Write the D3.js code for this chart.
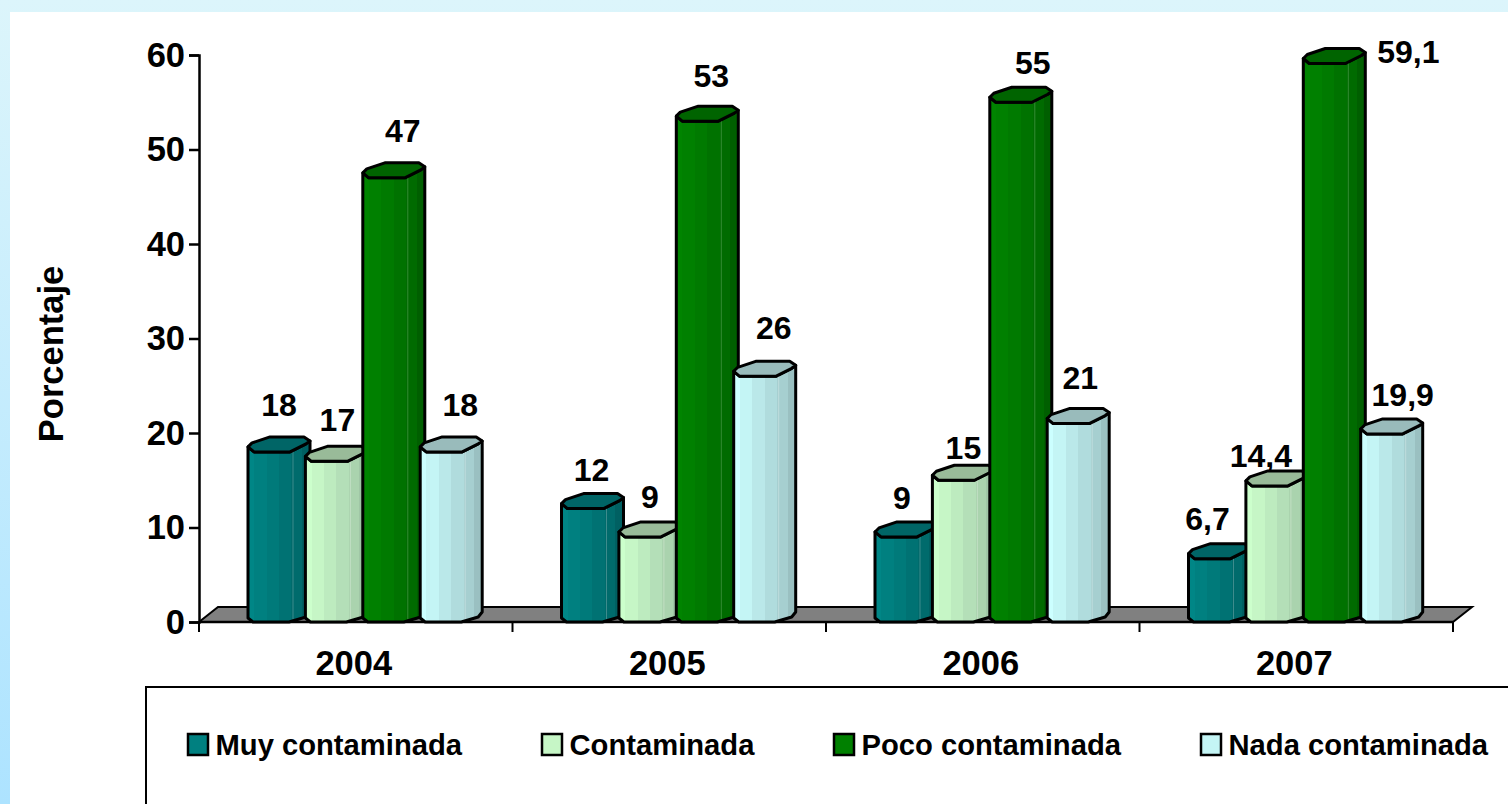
<!DOCTYPE html>
<html><head><meta charset="utf-8">
<script src="https://cdn.jsdelivr.net/npm/d3@7/dist/d3.min.js"></script>
<style>
html,body{margin:0;padding:0;overflow:hidden;background:#fff}
text{font-family:"Liberation Sans",Arial,sans-serif;font-weight:700;fill:#000}
</style></head><body>
<svg id="c" width="1508" height="804"></svg>
<script>
const years=["2004","2005","2006","2007"];
const seriesNames=["Muy contaminada","Contaminada","Poco contaminada","Nada contaminada"];
const muy=[18,12,9,6.7];
const contaminada=[17,9,15,14.4];
const poco=[47,53,55,59.1];
const nada=[18,26,21,19.9];
const yTicks=[0,10,20,30,40,50,60];
const seriesValues=[muy,contaminada,poco,nada];

// layout-only: label nudges from the default spot above each bar [series][year]
const labelNudge=[
 [[0,0],[-1,8],[-4,8],[-12,7]],
 [[1,5],[0,7],[0,14],[-16,17]],
 [[9,0],[4,1],[12,7],[74,35]],
 [[9,0],[9,-2],[2,1],[11,8]]
];
const palette=[
 {face:["#008686","#008080","#007a7a","#007273","#006b6c","#006062"],top:"#006566",line:"#6fa8a8"},
 {face:["#ccffcc","#c6f6c6","#bdebbf","#b4dfb8","#aad3ae","#a0c6a6"],top:"#99bb99",line:"#d5e8d5"},
 {face:["#008400","#008000","#007a00","#007200","#006b00","#005f00"],top:"#006400",line:"#5fa85f"},
 {face:["#ccffff","#c4f5f5","#bae8e9","#b0dcdd","#a6cfd0","#9ac0c1"],top:"#99bbbb",line:"#d5e8e8"}
];
const W=1508,H=804;
const svg=d3.select("#c");
const defs=svg.append("defs");
const bg=defs.append("linearGradient").attr("id","bg").attr("x1",0).attr("y1",0).attr("x2",0).attr("y2",1);
bg.append("stop").attr("offset",0).attr("stop-color","#dcf5fb");
bg.append("stop").attr("offset",1).attr("stop-color","#ade3ff");
svg.append("rect").attr("width",W).attr("height",H).attr("fill","url(#bg)");
svg.append("rect").attr("x",10).attr("y",12).attr("width",W-10).attr("height",H-12).attr("fill","#fff");

palette.forEach((p,i)=>{
  const g=defs.append("linearGradient").attr("id","f"+i).attr("x1",0).attr("x2",1).attr("y1",0).attr("y2",0);
  const stops=[0,.1,.3,.5,.7,.87,1];
  p.face.forEach((c,k)=>{
    g.append("stop").attr("offset",stops[k]).attr("stop-color",c);
    g.append("stop").attr("offset",stops[k+1]).attr("stop-color",c);
  });
});

const y=d3.scaleLinear().domain([0,60]).range([622,55]);
const x=d3.scaleBand().domain(years).range([199,1453]);
const sx=d3.scaleBand().domain(d3.range(4)).range([49,49+57.4*4]).padding(0);

// floor
const floorDepth=[19,15];
svg.append("path")
  .attr("d",d3.line()([[x.range()[0],y(0)],[x.range()[0]+floorDepth[0],y(0)-floorDepth[1]],[x.range()[1]+floorDepth[0],y(0)-floorDepth[1]],[x.range()[1],y(0)]])+"Z")
  .attr("fill","#808080").attr("stroke","#000").attr("stroke-width",2);

const FS=34.5;
// axes
const gy=svg.append("g").attr("transform","translate(199,0)").call(d3.axisLeft(y).tickValues(yTicks).tickSize(10).tickPadding(4));
gy.selectAll("path").attr("stroke","#000").attr("stroke-width",2.5);
gy.selectAll("line").attr("stroke","#000").attr("stroke-width",2.5);
gy.selectAll("text").style("font-size",FS+"px").style("font-family","Liberation Sans").style("font-weight","700");
const gx=svg.append("g").attr("transform","translate(0,622)").call(d3.axisBottom(x).tickSize(0).tickPadding(29));
gx.select("path").remove();
gx.selectAll("text").attr("dx",-2).style("font-size",FS+"px").style("font-family","Liberation Sans").style("font-weight","700");
svg.selectAll(".xt").data([...years.map(d=>x(d)),x.range()[1]]).join("line").attr("class","xt")
  .attr("x1",d=>d).attr("x2",d=>d).attr("y1",622).attr("y2",632).attr("stroke","#000").attr("stroke-width",2);
svg.append("line").attr("x1",199).attr("x2",1453).attr("y1",622).attr("y2",622).attr("stroke","#000").attr("stroke-width",2.5);

// bars
const BW=62;
const line=d3.line();
function body(top,bot){return line([[0,top-5],[0,bot-4],[5,bot],[41,bot],[58,bot-5],[BW,bot-10],[BW,top-11],[58,top-8],[42,top],[6,top]])+"Z";}
function cap(top){return line([[0,top-5],[4,top-9],[22,top-15],[56,top-15],[BW,top-11],[58,top-8],[42,top],[6,top]])+"Z";}
years.forEach((yr,yi)=>{
  const g=svg.append("g").attr("transform",`translate(${x(yr)},0)`);
  seriesValues.forEach((vals,si)=>{
    const v=vals[yi],top=y(v),bot=y(0);
    const b=g.append("g").attr("transform",`translate(${sx(si)},0)`);
    b.append("path").attr("d",body(top,bot)).attr("fill",`url(#f${si})`).attr("stroke","#000").attr("stroke-width",3).attr("stroke-linejoin","round");
    b.append("line").attr("x1",45).attr("x2",45).attr("y1",top-2).attr("y2",bot-3).attr("stroke",palette[si].line).attr("stroke-width",1).attr("opacity",.55);
    b.append("path").attr("d",cap(top)).attr("fill",palette[si].top).attr("stroke","#000").attr("stroke-width",3).attr("stroke-linejoin","round");
  });
});
// labels
years.forEach((yr,yi)=>{
  seriesValues.forEach((vals,si)=>{
    const v=vals[yi],n=labelNudge[si][yi];
    svg.append("text").attr("x",x(yr)+sx(si)+BW/2+n[0]).attr("y",y(v)-47+n[1]).attr("dy","0.36em").attr("text-anchor","middle")
      .style("font-size","32px").text(String(v).replace(".",","));
  });
});
// axis title
svg.append("text").attr("transform","translate(51,354) rotate(-90)").attr("dy","0.36em").attr("text-anchor","middle").style("font-size",FS+"px").text("Porcentaje");
// legend
svg.append("rect").attr("x",146).attr("y",687).attr("width",1400).attr("height",200).attr("fill","none").attr("stroke","#000").attr("stroke-width",2);
const legendX=[187,541,833,1200];
seriesNames.forEach((n,i)=>{
  svg.append("rect").attr("x",legendX[i]+1).attr("y",734).attr("width",20).attr("height",21).attr("fill",palette[i].face[1]).attr("stroke","#000").attr("stroke-width",2.5);
  svg.append("text").attr("x",legendX[i]+28.5).attr("y",744).attr("dy","0.36em").style("font-size","29.2px").text(n);
});
</script></body></html>
